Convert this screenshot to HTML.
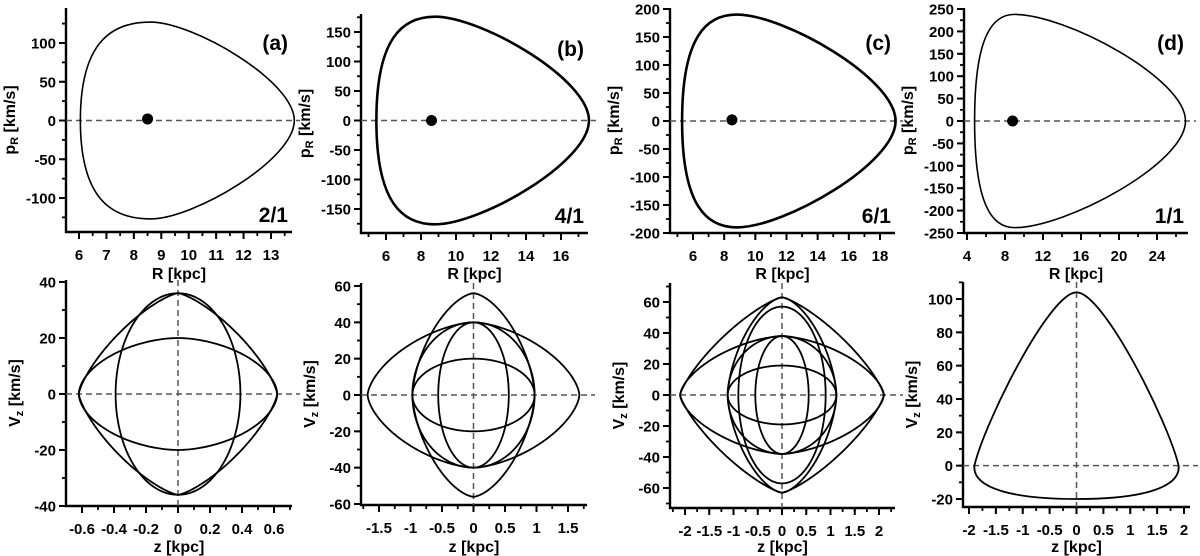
<!DOCTYPE html>
<html><head><meta charset="utf-8">
<style>
html,body{margin:0;padding:0;background:#fff;}
svg{display:block;font-family:"Liberation Sans",Arial,sans-serif;font-weight:bold;}
</style></head>
<body>
<svg id="fig" width="1200" height="556" viewBox="0 0 1200 556" xmlns="http://www.w3.org/2000/svg"></svg>
<script>
// ---- data arrays ----
const panelIds = ['a','b','c','d'];
const resonances = ['2/1','4/1','6/1','1/1'];
// top panels: egg-shaped orbits [Rmin, Rmax, pMax, R at pMax]
const eggRmin = [6.05, 5.45, 5.3, 4.8];
const eggRmax = [13.85, 17.6, 19.0, 27.0];
const eggPmax = [127, 176, 190, 238];
const eggRpeak = [8.6, 8.8, 8.8, 9.0];
const dotR = [8.5, 8.6, 8.5, 8.8];
const dotP = [2, 0, 2, 0];
// bottom panels: closed curves [zAmp, vAmp, exponent]
const curvesA = [[0.62,20,1.8],[0.39,36,2],[0.62,36,1.35]];
const curvesB = [[0.97,20,2],[0.56,40,2],[0.97,40,2],[1.68,40,1.6],[0.97,56,1.6]];
const curvesC = [[1.12,19,2],[0.55,38,2],[1.12,38,2],[0.9,57,2],[1.12,63,1.6],[2.1,38,1.6],[2.1,63,1.3]];
const curveD = {zHalf:1.9, vTop:104, vBot:-20};
// tick arrays
const topXTicks = [[6,7,8,9,10,11,12,13],[6,8,10,12,14,16],[6,8,10,12,14,16,18],[4,8,12,16,20,24]];
const topXMinor = [0.5,1,1,2];
const topYTicks = [[-100,-50,0,50,100],[-150,-100,-50,0,50,100,150],[-200,-150,-100,-50,0,50,100,150,200],[-250,-200,-150,-100,-50,0,50,100,150,200,250]];
const topYMinor = [25,25,25,25];
const botXTicks = [[-0.6,-0.4,-0.2,0,0.2,0.4,0.6],[-1.5,-1,-0.5,0,0.5,1,1.5],[-2,-1.5,-1,-0.5,0,0.5,1,1.5,2],[-2,-1.5,-1,-0.5,0,0.5,1,1.5,2]];
const botXMinor = [0.1,0.25,0.25,0.25];
const botYTicks = [[-40,-20,0,20,40],[-60,-40,-20,0,20,40,60],[-60,-40,-20,0,20,40,60],[-20,0,20,40,60,80,100]];
const botYMinor = [10,10,10,10];

// ---- layout (pixel calibration) ----
const topLayout = [
 {ax:66,right:292,top:8,bot:232,xc:[6,79,13,271],yc:[100,43,-100,198]},
 {ax:361,right:588,top:14,bot:233,xc:[6,386,16,561],yc:[150,32,-150,209]},
 {ax:670,right:895,top:8,bot:233,xc:[6,693,18,880],yc:[200,9,-200,233]},
 {ax:964,right:1188,top:8,bot:233,xc:[4,967,24,1157],yc:[250,9,-250,233]}];
const botLayout = [
 {ax:66,right:292,top:280,bot:506,xc:[-0.6,82,0.6,274],yc:[40,282,-40,506]},
 {ax:361,right:587,top:283,bot:505,xc:[-1.5,379,1.5,568],yc:[60,286,-60,504]},
 {ax:670,right:895,top:283,bot:508,xc:[-2,685,2,879],yc:[60,302,-60,488]},
 {ax:963,right:1190,top:282,bot:507,xc:[-2,969,2,1184],yc:[100,299,-20,499]}];

const NS='http://www.w3.org/2000/svg';
const svg=document.getElementById('fig');
function el(tag,attrs,parent){const e=document.createElementNS(NS,tag);for(const k in attrs)e.setAttribute(k,attrs[k]);(parent||svg).appendChild(e);return e;}
function lin(c){const s=(c[3]-c[1])/(c[2]-c[0]);return v=>c[1]+(v-c[0])*s;}
function inv(c){const s=(c[2]-c[0])/(c[3]-c[1]);return p=>c[0]+(p-c[1])*s;}
function fmt(v){return (Math.round(v*100)/100).toString();}

function drawAxes(g,L,xt,xm,yt,ym,xTitle,yTitleMain,yTitleSub,titleY,yTitleX){
  const X=lin(L.xc),Y=lin(L.yc);
  const x0=inv(L.xc)(L.ax),x1=inv(L.xc)(L.right);
  for(let v=Math.ceil(x0/xm)*xm;v<=x1+1e-9;v+=xm){const px=X(v);if(px<L.ax+2)continue;
    const t=el('line',{x1:px,y1:L.bot,x2:px,y2:L.bot+4,stroke:'#000','stroke-width':1.8},g);
    }
  const y0=inv(L.yc)(L.bot),y1=inv(L.yc)(L.top);
  for(let v=Math.ceil(Math.min(y0,y1)/ym)*ym;v<=Math.max(y0,y1)+1e-9;v+=ym){const py=Y(v);if(py>L.bot-2)continue;
    const t=el('line',{x1:L.ax-4,y1:py,x2:L.ax,y2:py,stroke:'#000','stroke-width':1.8},g);
    }
  xt.forEach(v=>{const px=X(v);
    const t=el('line',{x1:px,y1:L.bot,x2:px,y2:L.bot+7,stroke:'#000','stroke-width':2},g);
    
    const lb=el('text',{x:px,y:L.bot+28,'text-anchor':'middle','font-size':15},g);lb.textContent=fmt(v);
    });
  yt.forEach(v=>{const py=Y(v);
    const t=el('line',{x1:L.ax-7,y1:py,x2:L.ax,y2:py,stroke:'#000','stroke-width':2},g);
    
    const lb=el('text',{x:L.ax-10,y:py+5.5,'text-anchor':'end','font-size':15},g);lb.textContent=fmt(v);
    });
  const ax=el('path',{d:`M${L.ax},${L.top}V${L.bot}H${L.right}`,fill:'none',stroke:'#000','stroke-width':2.4},g);
  
  const xtl=el('text',{x:(L.ax+L.right)/2,y:titleY,'text-anchor':'middle','font-size':16},g);xtl.textContent=xTitle;
  
  const cy=(L.top+L.bot)/2;
  const ytl=el('text',{x:yTitleX,y:cy,'text-anchor':'middle','font-size':16,transform:`rotate(-90 ${yTitleX} ${cy})`},g);
  
  ytl.textContent=yTitleMain;
  const ts=el('tspan',{'font-size':11,dy:3},ytl);ts.textContent=yTitleSub;
  const ts2=el('tspan',{dy:-3},ytl);ts2.textContent=' [km/s]';
  return {X,Y};
}

function dashH(g,L,Y){const d=el('line',{x1:L.ax,y1:Y(0),x2:L.right+8,y2:Y(0),stroke:'#555','stroke-width':1.5,'stroke-dasharray':'6,4'},g);
  }
function dashV(g,L,X){const d=el('line',{x1:X(0),y1:L.top,x2:X(0),y2:L.bot,stroke:'#555','stroke-width':1.5,'stroke-dasharray':'6,4'},g);
  }

// ---- top panels ----
panelIds.forEach((id,i)=>{
  const L=topLayout[i];
  const g=el('g',{});
  const {X,Y}=drawAxes(g,L,topXTicks[i],topXMinor[i],topYTicks[i],topYMinor[i],'R [kpc]','p','R',279,L.ax-51);
  dashH(g,L,Y);
  const a=eggRmin[i],b=eggRmax[i],p=eggPmax[i],r=eggRpeak[i];
  const d=`M${X(a)},${Y(0)} C${X(a)},${Y(p*0.8)} ${X(r-(r-a)*0.55)},${Y(p)} ${X(r)},${Y(p)}`+
   ` C${X(r+(b-r)*0.3)},${Y(p)} ${X(b)},${Y(p*0.4)} ${X(b)},${Y(0)}`+
   ` C${X(b)},${Y(-p*0.4)} ${X(r+(b-r)*0.3)},${Y(-p)} ${X(r)},${Y(-p)}`+
   ` C${X(r-(r-a)*0.55)},${Y(-p)} ${X(a)},${Y(-p*0.8)} ${X(a)},${Y(0)}Z`;
  const o=el('path',{d,fill:'none',stroke:'#000','stroke-width':(i==1||i==2)?2.6:1.6},g);
  
  const c=el('circle',{cx:X(dotR[i]),cy:Y(dotP[i]),r:5.5,fill:'#000'},g);
  
  const pl=el('text',{x:L.right-4,y:L.top+42,'text-anchor':'end','font-size':21},g);pl.textContent='('+id+')';
  
  const rl=el('text',{x:L.right-4,y:L.bot-10,'text-anchor':'end','font-size':21},g);rl.textContent=resonances[i];
  
});

// ---- bottom panels ----
const curveSets=[curvesA,curvesB,curvesC];
panelIds.forEach((id,i)=>{
  const L=botLayout[i];
  const g=el('g',{});
  const {X,Y}=drawAxes(g,L,botXTicks[i],botXMinor[i],botYTicks[i],botYMinor[i],'z [kpc]','V','z',552,L.ax-46);
  dashH(g,L,Y);dashV(g,L,X);
  if(i<3){
    curveSets[i].forEach(cv=>{
      const [A,B,n]=cv;let d='';
      for(let k=0;k<=240;k++){const t=k/240*2*Math.PI,c=Math.cos(t),s=Math.sin(t);
        const z=A*Math.sign(c)*Math.pow(Math.abs(c),2/n),v=B*Math.sign(s)*Math.pow(Math.abs(s),2/n);
        d+=(k?'L':'M')+X(z).toFixed(2)+','+Y(v).toFixed(2);}
      const o=el('path',{d:d+'Z',fill:'none',stroke:'#000','stroke-width':1.8},g);
      
    });
  } else {
    const z=curveD.zHalf,t=curveD.vTop,b=curveD.vBot;
    const d=`M${X(0)},${Y(t)} C${X(0.5)},${Y(t)} ${X(z*0.9)},${Y(t*0.25)} ${X(z)},${Y(0)}`+
     ` C${X(z*1.02)},${Y(b*0.7)} ${X(z*0.6)},${Y(b)} ${X(0)},${Y(b)}`+
     ` C${X(-z*0.6)},${Y(b)} ${X(-z*1.02)},${Y(b*0.7)} ${X(-z)},${Y(0)}`+
     ` C${X(-z*0.9)},${Y(t*0.25)} ${X(-0.5)},${Y(t)} ${X(0)},${Y(t)}Z`;
    const o=el('path',{d,fill:'none',stroke:'#000','stroke-width':1.8},g);
    
  }
});
</script>
</body></html>
